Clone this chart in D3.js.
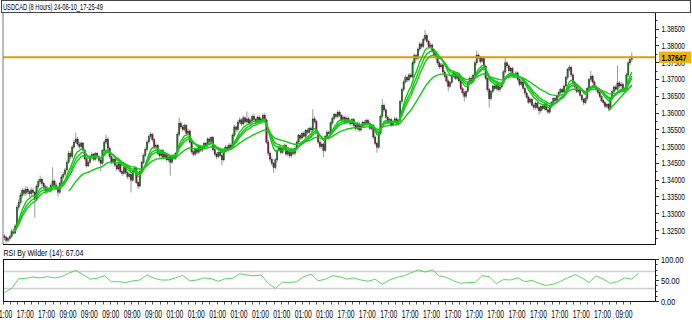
<!DOCTYPE html>
<html>
<head>
<meta charset="utf-8">
<script src="https://cdn.jsdelivr.net/npm/d3@7/dist/d3.min.js"></script>
<style>
body { margin: 0; background: #fff; }
svg { display: block; font-family: "Liberation Sans", Arial, sans-serif; }
</style>
</head>
<body>
<div id="chart"></div>
<script>
var titleText = "USDCAD (8 Hours) 24-06-10_17-25-49";
var rsiText = "RSI By Wilder (14): 67.04";
var lastPrice = 1.37647;

// 8h candles, oldest first
var open = [
1.3232,1.3228,1.3219,1.3224,1.3231,1.3246,1.3241,1.3262,1.3318,1.3331,
1.3352,1.3368,1.3359,1.3372,1.3364,1.3358,1.3369,1.3361,1.3342,1.3379,
1.3394,1.3401,1.3388,1.3379,1.3366,1.3374,1.3368,1.3382,1.3396,1.3384,
1.3377,1.3362,1.3389,1.3408,1.3416,1.3429,1.3452,1.3478,1.3469,1.3497,
1.3512,1.3521,1.3506,1.3498,1.3509,1.3488,1.3462,1.3441,1.3452,1.3468,
1.3474,1.3461,1.3478,1.3469,1.3457,1.3449,1.3486,1.3512,1.3521,1.3494,
1.3468,1.3452,1.3461,1.3443,1.3432,1.3447,1.3424,1.3418,1.3436,1.3421,
1.3409,1.3415,1.3398,1.3426,1.3434,1.3392,1.3381,1.3425,1.3451,1.3472,
1.3489,1.3512,1.3528,1.3534,1.3519,1.3496,1.3502,1.3478,1.3471,1.3486,
1.3466,1.3474,1.3459,1.3467,1.3452,1.3471,1.3463,1.3477,1.3535,1.3568,
1.3557,1.3549,1.3561,1.3538,1.3545,1.3512,1.3483,1.3476,1.3489,1.3481,
1.3497,1.3488,1.3494,1.3508,1.3502,1.3521,1.3514,1.3526,1.3489,1.3476,
1.3468,1.3481,1.3472,1.3459,1.3486,1.3497,1.3491,1.3503,1.3496,1.3532,
1.3557,1.3549,1.3571,1.3578,1.3566,1.3584,1.3572,1.3581,1.3569,1.3576,
1.3588,1.3579,1.3571,1.3586,1.3574,1.3581,1.3592,1.3578,1.3512,1.3479,
1.3461,1.3448,1.3436,1.3459,1.3488,1.3497,1.3481,1.3492,1.3502,1.3476,
1.3484,1.3471,1.3489,1.3478,1.3494,1.3512,1.3531,1.3524,1.3538,1.3529,
1.3546,1.3541,1.3552,1.3548,1.3581,1.3573,1.3541,1.3512,1.3498,1.3506,
1.3487,1.3528,1.3541,1.3537,1.3569,1.3582,1.3594,1.3588,1.3601,1.3592,
1.3578,1.3586,1.3571,1.3583,1.3574,1.3566,1.3579,1.3561,1.3552,1.3566,
1.3548,1.3559,1.3571,1.3563,1.3576,1.3568,1.3552,1.3561,1.3527,1.3508,
1.3496,1.3538,1.3589,1.3621,1.3608,1.3586,1.3571,1.3579,1.3563,1.3572,
1.3581,1.3568,1.3576,1.3632,1.3668,1.3691,1.3704,1.3697,1.3712,1.3706,
1.3748,1.3769,1.3761,1.3789,1.3804,1.3797,1.3818,1.3829,1.3812,1.3796,
1.3801,1.3784,1.3772,1.3763,1.3748,1.3736,1.3742,1.3721,1.3708,1.3694,
1.3678,1.3689,1.3708,1.3716,1.3702,1.3711,1.3694,1.3671,1.3659,1.3648,
1.3663,1.3689,1.3702,1.3694,1.3711,1.3748,1.3771,1.3764,1.3752,1.3761,
1.3738,1.3702,1.3668,1.3641,1.3662,1.3679,1.3671,1.3684,1.3668,1.3676,
1.3688,1.3721,1.3748,1.3739,1.3724,1.3731,1.3712,1.3706,1.3718,1.3698,
1.3684,1.3691,1.3672,1.3658,1.3646,1.3631,1.3639,1.3622,1.3615,1.3628,
1.3614,1.3605,1.3619,1.3611,1.3624,1.3608,1.3601,1.3617,1.3629,1.3641,
1.3636,1.3648,1.3659,1.3668,1.3661,1.3679,1.3704,1.3728,1.3734,1.3712,
1.3689,1.3676,1.3663,1.3668,1.3651,1.3638,1.3629,1.3642,1.3672,1.3698,
1.3708,1.3691,1.3677,1.3668,1.3659,1.3648,1.3636,1.3629,1.3618,1.3624,
1.3612,1.3641,1.3662,1.3676,1.3669,1.3688,1.3679,1.3684,1.3671,1.3668,
1.3712,1.3748,1.3758
];
var high = [
1.3238,1.3233,1.3229,1.3236,1.3253,1.3255,1.3268,1.3324,1.3342,1.3361,
1.3376,1.3374,1.3381,1.3379,1.3369,1.3377,1.3374,1.3366,1.3386,1.3402,
1.3412,1.3406,1.3393,1.3384,1.3381,1.3379,1.3389,1.3437,1.3401,1.3391,
1.3383,1.3394,1.3414,1.3423,1.3435,1.3458,1.3486,1.3484,1.3503,1.3519,
1.3540,1.3527,1.3513,1.3514,1.3512,1.3493,1.3467,1.3458,1.3474,1.3481,
1.3479,1.3483,1.3482,1.3473,1.3461,1.3491,1.3517,1.3534,1.3526,1.3499,
1.3473,1.3466,1.3467,1.3448,1.3453,1.3452,1.3429,1.3442,1.3441,1.3426,
1.3421,1.3419,1.3431,1.3441,1.3438,1.3397,1.3431,1.3456,1.3478,1.3496,
1.3518,1.3533,1.3542,1.3539,1.3524,1.3508,1.3506,1.3483,1.3492,1.3491,
1.3479,1.3478,1.3472,1.3471,1.3476,1.3476,1.3482,1.3541,1.3585,1.3574,
1.3563,1.3567,1.3566,1.3551,1.3549,1.3517,1.3488,1.3494,1.3493,1.3503,
1.3502,1.3499,1.3513,1.3512,1.3527,1.3526,1.3531,1.3529,1.3494,1.3481,
1.3487,1.3486,1.3477,1.3492,1.3503,1.3502,1.3509,1.3508,1.3538,1.3563,
1.3562,1.3577,1.3586,1.3583,1.3591,1.3589,1.3603,1.3587,1.3582,1.3594,
1.3596,1.3584,1.3591,1.3592,1.3586,1.3598,1.3597,1.3583,1.3518,1.3484,
1.3468,1.3453,1.3464,1.3493,1.3503,1.3502,1.3497,1.3508,1.3507,1.3489,
1.3489,1.3494,1.3494,1.3499,1.3517,1.3537,1.3536,1.3543,1.3544,1.3551,
1.3553,1.3557,1.3558,1.3610,1.3589,1.3578,1.3546,1.3518,1.3511,1.3511,
1.3533,1.3547,1.3546,1.3574,1.3588,1.3599,1.3598,1.3607,1.3606,1.3596,
1.3592,1.3591,1.3588,1.3588,1.3579,1.3584,1.3583,1.3567,1.3571,1.3571,
1.3564,1.3576,1.3577,1.3581,1.3581,1.3573,1.3566,1.3566,1.3532,1.3513,
1.3543,1.3594,1.3640,1.3627,1.3613,1.3591,1.3584,1.3584,1.3577,1.3587,
1.3586,1.3581,1.3638,1.3674,1.3698,1.3711,1.3709,1.3718,1.3717,1.3754,
1.3776,1.3774,1.3794,1.3811,1.3809,1.3824,1.3846,1.3834,1.3817,1.3807,
1.3806,1.3789,1.3778,1.3768,1.3753,1.3748,1.3747,1.3726,1.3713,1.3699,
1.3694,1.3713,1.3722,1.3721,1.3716,1.3716,1.3699,1.3676,1.3664,1.3668,
1.3694,1.3708,1.3707,1.3716,1.3754,1.3784,1.3776,1.3769,1.3766,1.3766,
1.3743,1.3707,1.3673,1.3667,1.3684,1.3684,1.3689,1.3689,1.3681,1.3693,
1.3726,1.3762,1.3753,1.3744,1.3736,1.3736,1.3717,1.3723,1.3722,1.3703,
1.3697,1.3696,1.3677,1.3663,1.3651,1.3644,1.3643,1.3627,1.3633,1.3632,
1.3619,1.3624,1.3623,1.3629,1.3628,1.3613,1.3622,1.3634,1.3646,1.3647,
1.3653,1.3664,1.3673,1.3674,1.3684,1.3709,1.3733,1.3742,1.3739,1.3717,
1.3694,1.3681,1.3673,1.3673,1.3656,1.3643,1.3647,1.3677,1.3703,1.3724,
1.3713,1.3696,1.3682,1.3673,1.3664,1.3653,1.3641,1.3634,1.3629,1.3629,
1.3646,1.3667,1.3681,1.3682,1.3740,1.3694,1.3691,1.3689,1.3676,1.3718,
1.3754,1.3769,1.3779
];
var low = [
1.3219,1.3211,1.3213,1.3218,1.3225,1.3236,1.3238,1.3257,1.3309,1.3326,
1.3346,1.3352,1.3351,1.3357,1.3349,1.3352,1.3355,1.3287,1.3336,1.3373,
1.3387,1.3381,1.3372,1.3358,1.3361,1.3363,1.3361,1.3377,1.3378,1.3369,
1.3350,1.3357,1.3384,1.3402,1.3411,1.3424,1.3447,1.3461,1.3463,1.3491,
1.3507,1.3501,1.3492,1.3493,1.3483,1.3457,1.3436,1.3437,1.3447,1.3463,
1.3455,1.3456,1.3463,1.3451,1.3425,1.3444,1.3481,1.3506,1.3489,1.3462,
1.3446,1.3447,1.3438,1.3426,1.3427,1.3419,1.3411,1.3413,1.3416,1.3402,
1.3403,1.3362,1.3393,1.3421,1.3387,1.3372,1.3376,1.3419,1.3446,1.3467,
1.3484,1.3507,1.3522,1.3513,1.3491,1.3489,1.3473,1.3465,1.3466,1.3461,
1.3461,1.3454,1.3453,1.3412,1.3447,1.3458,1.3458,1.3471,1.3529,1.3551,
1.3543,1.3544,1.3532,1.3533,1.3507,1.3476,1.3469,1.3471,1.3475,1.3476,
1.3483,1.3482,1.3489,1.3496,1.3497,1.3508,1.3509,1.3484,1.3471,1.3461,
1.3463,1.3467,1.3442,1.3454,1.3481,1.3486,1.3486,1.3491,1.3491,1.3527,
1.3541,1.3543,1.3565,1.3561,1.3561,1.3567,1.3567,1.3563,1.3563,1.3571,
1.3573,1.3566,1.3567,1.3569,1.3569,1.3576,1.3572,1.3506,1.3471,1.3453,
1.3442,1.3420,1.3431,1.3452,1.3483,1.3476,1.3477,1.3486,1.3471,1.3469,
1.3465,1.3466,1.3473,1.3472,1.3489,1.3507,1.3518,1.3519,1.3524,1.3524,
1.3535,1.3536,1.3542,1.3543,1.3567,1.3536,1.3506,1.3492,1.3493,1.3468,
1.3482,1.3523,1.3531,1.3531,1.3563,1.3577,1.3582,1.3583,1.3586,1.3572,
1.3573,1.3566,1.3566,1.3568,1.3561,1.3561,1.3556,1.3546,1.3547,1.3542,
1.3543,1.3553,1.3558,1.3558,1.3563,1.3547,1.3547,1.3521,1.3502,1.3480,
1.3491,1.3532,1.3583,1.3602,1.3581,1.3566,1.3566,1.3557,1.3558,1.3567,
1.3562,1.3563,1.3571,1.3626,1.3662,1.3686,1.3691,1.3692,1.3701,1.3701,
1.3742,1.3755,1.3756,1.3783,1.3791,1.3792,1.3812,1.3806,1.3791,1.3790,
1.3778,1.3767,1.3757,1.3742,1.3729,1.3731,1.3716,1.3702,1.3688,1.3663,
1.3672,1.3684,1.3703,1.3697,1.3697,1.3689,1.3666,1.3653,1.3633,1.3642,
1.3658,1.3683,1.3688,1.3689,1.3706,1.3742,1.3758,1.3746,1.3747,1.3732,
1.3696,1.3662,1.3615,1.3636,1.3657,1.3666,1.3666,1.3663,1.3662,1.3671,
1.3683,1.3716,1.3733,1.3719,1.3719,1.3707,1.3701,1.3701,1.3693,1.3678,
1.3678,1.3667,1.3652,1.3641,1.3626,1.3626,1.3617,1.3608,1.3609,1.3608,
1.3594,1.3599,1.3606,1.3606,1.3603,1.3596,1.3597,1.3612,1.3624,1.3631,
1.3631,1.3642,1.3654,1.3656,1.3656,1.3674,1.3698,1.3722,1.3706,1.3683,
1.3671,1.3658,1.3658,1.3646,1.3633,1.3622,1.3624,1.3637,1.3667,1.3692,
1.3686,1.3672,1.3662,1.3654,1.3643,1.3631,1.3623,1.3612,1.3613,1.3606,
1.3607,1.3636,1.3657,1.3664,1.3664,1.3673,1.3674,1.3666,1.3662,1.3663,
1.3706,1.3741,1.3751
];
var close = [
1.3228,1.3219,1.3224,1.3231,1.3246,1.3241,1.3262,1.3318,1.3331,1.3352,
1.3368,1.3359,1.3372,1.3364,1.3358,1.3369,1.3361,1.3342,1.3379,1.3394,
1.3401,1.3388,1.3379,1.3366,1.3374,1.3368,1.3382,1.3396,1.3384,1.3377,
1.3362,1.3389,1.3408,1.3416,1.3429,1.3452,1.3478,1.3469,1.3497,1.3512,
1.3521,1.3506,1.3498,1.3509,1.3488,1.3462,1.3441,1.3452,1.3468,1.3474,
1.3461,1.3478,1.3469,1.3457,1.3449,1.3486,1.3512,1.3521,1.3494,1.3468,
1.3452,1.3461,1.3443,1.3432,1.3447,1.3424,1.3418,1.3436,1.3421,1.3409,
1.3415,1.3398,1.3426,1.3434,1.3392,1.3381,1.3425,1.3451,1.3472,1.3489,
1.3512,1.3528,1.3534,1.3519,1.3496,1.3502,1.3478,1.3471,1.3486,1.3466,
1.3474,1.3459,1.3467,1.3452,1.3471,1.3463,1.3477,1.3535,1.3568,1.3557,
1.3549,1.3561,1.3538,1.3545,1.3512,1.3483,1.3476,1.3489,1.3481,1.3497,
1.3488,1.3494,1.3508,1.3502,1.3521,1.3514,1.3526,1.3489,1.3476,1.3468,
1.3481,1.3472,1.3459,1.3486,1.3497,1.3491,1.3503,1.3496,1.3532,1.3557,
1.3549,1.3571,1.3578,1.3566,1.3584,1.3572,1.3581,1.3569,1.3576,1.3588,
1.3579,1.3571,1.3586,1.3574,1.3581,1.3592,1.3578,1.3512,1.3479,1.3461,
1.3448,1.3436,1.3459,1.3488,1.3497,1.3481,1.3492,1.3502,1.3476,1.3484,
1.3471,1.3489,1.3478,1.3494,1.3512,1.3531,1.3524,1.3538,1.3529,1.3546,
1.3541,1.3552,1.3548,1.3581,1.3573,1.3541,1.3512,1.3498,1.3506,1.3487,
1.3528,1.3541,1.3537,1.3569,1.3582,1.3594,1.3588,1.3601,1.3592,1.3578,
1.3586,1.3571,1.3583,1.3574,1.3566,1.3579,1.3561,1.3552,1.3566,1.3548,
1.3559,1.3571,1.3563,1.3576,1.3568,1.3552,1.3561,1.3527,1.3508,1.3496,
1.3538,1.3589,1.3621,1.3608,1.3586,1.3571,1.3579,1.3563,1.3572,1.3581,
1.3568,1.3576,1.3632,1.3668,1.3691,1.3704,1.3697,1.3712,1.3706,1.3748,
1.3769,1.3761,1.3789,1.3804,1.3797,1.3818,1.3829,1.3812,1.3796,1.3801,
1.3784,1.3772,1.3763,1.3748,1.3736,1.3742,1.3721,1.3708,1.3694,1.3678,
1.3689,1.3708,1.3716,1.3702,1.3711,1.3694,1.3671,1.3659,1.3648,1.3663,
1.3689,1.3702,1.3694,1.3711,1.3748,1.3771,1.3764,1.3752,1.3761,1.3738,
1.3702,1.3668,1.3641,1.3662,1.3679,1.3671,1.3684,1.3668,1.3676,1.3688,
1.3721,1.3748,1.3739,1.3724,1.3731,1.3712,1.3706,1.3718,1.3698,1.3684,
1.3691,1.3672,1.3658,1.3646,1.3631,1.3639,1.3622,1.3615,1.3628,1.3614,
1.3605,1.3619,1.3611,1.3624,1.3608,1.3601,1.3617,1.3629,1.3641,1.3636,
1.3648,1.3659,1.3668,1.3661,1.3679,1.3704,1.3728,1.3734,1.3712,1.3689,
1.3676,1.3663,1.3668,1.3651,1.3638,1.3629,1.3642,1.3672,1.3698,1.3708,
1.3691,1.3677,1.3668,1.3659,1.3648,1.3636,1.3629,1.3618,1.3624,1.3612,
1.3641,1.3662,1.3676,1.3669,1.3688,1.3679,1.3684,1.3671,1.3668,1.3712,
1.3748,1.3758,1.37647
];

// RSI(14), one value every 4th candle
var rsiStep = 4;
var rsi = [
20,30,53,54,57,55,58,55,58,66,73,63,52,54,60,46,46,44,48,50,
62,54,50,50,55,61,48,50,55,53,47,53,54,65,62,60,62,42,30,45,
44,46,58,64,48,52,60,58,52,55,50,47,52,40,50,56,60,67,74,69,
74,60,56,48,42,44,44,60,58,41,51,50,55,46,49,42,37,40,47,55,
63,55,44,60,52,42,46,55,52,67
];

// short rising line at the right end: [candle index, price]
var trendStart = [339, 1.3606];
var trendEnd = [352, 1.3682];

var priceTicks = [1.385,1.38,1.375,1.37,1.365,1.36,1.355,1.35,1.345,1.34,1.335,1.33,1.325];
var rsiTicks = [100, 50, 0];
var rsiLevels = [70, 30];
var timeLabels = ["01:00","17:00","17:00","09:00","09:00","09:00","09:00","09:00",
  "01:00","01:00","01:00","01:00","01:00","01:00","01:00","01:00",
  "17:00","17:00","17:00","17:00","17:00","17:00","17:00","17:00","17:00",
  "17:00","17:00","17:00","17:00","09:00"];
var maPeriods = [8, 11, 14];
var slowPeriod = 34;

var W = 692, H = 336;
var left = 3, right = 655, mainTop = 13, mainBottom = 244;
var rsiTop = 259, rsiBottom = 301;
var N = close.length;

var svg = d3.select("#chart").append("svg")
  .attr("width", W).attr("height", H);

var x = d3.scaleLinear().domain([0, N - 1]).range([4.5, 631.8]);
var y = d3.scaleLinear().domain([1.325, 1.385]).range([230, 28.6]);
var yr = d3.scaleLinear().domain([0, 100]).range([rsiBottom, rsiTop]);

// the chart font is very narrow: draw at full height, squeeze to the measured width
function squeeze(t, x0, y0, width) {
  var w = t.node().getComputedTextLength();
  t.attr("transform", "translate(" + x0 + "," + y0 + ") scale(" + (width / w) + ",1)");
  return t;
}

svg.append("clipPath").attr("id", "mainClip").append("rect")
  .attr("x", left).attr("y", mainTop).attr("width", right - left).attr("height", mainBottom - mainTop);
svg.append("clipPath").attr("id", "rsiClip").append("rect")
  .attr("x", left).attr("y", rsiTop).attr("width", right - left).attr("height", rsiBottom - rsiTop);

// title strip
svg.append("rect").attr("x", 1.5).attr("y", 0.5).attr("width", 689).attr("height", 12)
  .attr("fill", "#fff").attr("stroke", "#444");
squeeze(svg.append("text").attr("font-size", 9.5).text(titleText), 3, 10, 100);

var plot = svg.append("g").attr("clip-path", "url(#mainClip)");

// candles
var idx = d3.range(N);
plot.selectAll("line.wick").data(idx).enter().append("line")
  .attr("class", "wick")
  .attr("x1", function(i) { return x(i); })
  .attr("x2", function(i) { return x(i); })
  .attr("y1", function(i) { return y(high[i]); })
  .attr("y2", function(i) { return y(low[i]); })
  .attr("stroke", "#9a9a9a").attr("stroke-width", 1);

plot.selectAll("rect.body").data(idx).enter().append("rect")
  .attr("class", "body")
  .attr("x", function(i) { return x(i) - 0.7; })
  .attr("width", 1.4)
  .attr("y", function(i) { return y(Math.max(open[i], close[i])); })
  .attr("height", function(i) { return Math.max(0.8, Math.abs(y(open[i]) - y(close[i]))); })
  .attr("fill", function(i) { return close[i] >= open[i] ? "#1e7a1e" : "#8a1449"; })
  .attr("stroke", "#222").attr("stroke-width", 0.35);

// last price line
plot.append("line")
  .attr("x1", left).attr("x2", right)
  .attr("y1", y(lastPrice)).attr("y2", y(lastPrice))
  .attr("stroke", "#d99e14").attr("stroke-width", 2);

// moving averages of the closes
function ema(period, start) {
  var k = 2 / (period + 1), prev = close[start], out = [];
  for (var i = start; i < N; i++) {
    prev = (i === start) ? close[i] : close[i] * k + prev * (1 - k);
    out.push([i, prev]);
  }
  return out;
}
var maLine = d3.line().x(function(d) { return x(d[0]); }).y(function(d) { return y(d[1]); });
maPeriods.forEach(function(p) {
  plot.append("path").datum(ema(p, 4)).attr("d", maLine)
    .attr("fill", "none").attr("stroke", "#14c814").attr("stroke-width", 1.4);
});
plot.append("path").datum(ema(slowPeriod, 0).filter(function(d) { return d[0] >= 36; }))
  .attr("d", maLine).attr("fill", "none").attr("stroke", "#14c814").attr("stroke-width", 1.4);
plot.append("path").datum([trendStart, trendEnd])
  .attr("d", maLine).attr("fill", "none").attr("stroke", "#14c814").attr("stroke-width", 1.4);

// main frame
svg.append("line").attr("x1", left).attr("x2", left).attr("y1", mainTop).attr("y2", mainBottom)
  .attr("stroke", "#777");
svg.append("line").attr("x1", left).attr("x2", right).attr("y1", mainBottom + 0.5).attr("y2", mainBottom + 0.5)
  .attr("stroke", "#111");
svg.append("line").attr("x1", right + 0.5).attr("x2", right + 0.5).attr("y1", mainTop).attr("y2", mainBottom + 1)
  .attr("stroke", "#111");

// price axis
var pAxis = svg.append("g");
pAxis.selectAll("line.minor").data(d3.range(1.3225, 1.3895, 0.0025)).enter().append("line")
  .attr("x1", right + 0.5).attr("x2", right + 2.5)
  .attr("y1", function(d) { return Math.round(y(d)) + 0.5; })
  .attr("y2", function(d) { return Math.round(y(d)) + 0.5; })
  .attr("stroke", "#333");
pAxis.selectAll("line.major").data(priceTicks).enter().append("line")
  .attr("x1", right + 0.5).attr("x2", right + 4)
  .attr("y1", function(d) { return Math.round(y(d)) + 0.5; })
  .attr("y2", function(d) { return Math.round(y(d)) + 0.5; })
  .attr("stroke", "#333");
pAxis.selectAll("text").data(priceTicks).enter().append("text")
  .attr("font-size", 9.5)
  .text(function(d) { return d3.format(".5f")(d); })
  .each(function(d) { squeeze(d3.select(this), 661.5, y(d) + 3.5, 23.5); });

// current price tag
svg.append("rect").attr("x", 659).attr("y", y(lastPrice) - 5.7).attr("width", 32).attr("height", 11.5)
  .attr("fill", "#f2b20a");
squeeze(svg.append("text").attr("font-size", 9.5).attr("font-weight", "bold")
  .text(d3.format(".5f")(lastPrice)), 661.5, y(lastPrice) + 3.6, 25);

// RSI panel
squeeze(svg.append("text").attr("font-size", 9.5).text(rsiText), 3.5, 255.5, 80);
svg.selectAll("line.level").data(rsiLevels).enter().append("line")
  .attr("x1", left).attr("x2", right)
  .attr("y1", function(d) { return yr(d); }).attr("y2", function(d) { return yr(d); })
  .attr("stroke", "#cfcfcf").attr("stroke-width", 1.5);
svg.append("g").attr("clip-path", "url(#rsiClip)").append("path")
  .datum(rsi)
  .attr("d", d3.line().x(function(d, k) { return x(k * rsiStep); }).y(function(d) { return yr(d); }))
  .attr("fill", "none").attr("stroke", "#5fd35f").attr("stroke-width", 1);
svg.append("rect").attr("x", left + 0.5).attr("y", rsiTop + 0.5)
  .attr("width", right - left).attr("height", rsiBottom - rsiTop)
  .attr("fill", "none").attr("stroke", "#111");

var rAxis = svg.append("g");
rAxis.selectAll("line.minor").data(d3.range(0, 101, 12.5)).enter().append("line")
  .attr("x1", right + 0.5).attr("x2", right + 2.5)
  .attr("y1", function(d) { return Math.round(yr(d)) + 0.5; })
  .attr("y2", function(d) { return Math.round(yr(d)) + 0.5; })
  .attr("stroke", "#333");
rAxis.selectAll("line.major").data(rsiTicks).enter().append("line")
  .attr("x1", right + 0.5).attr("x2", right + 4)
  .attr("y1", function(d) { return Math.round(yr(d)) + 0.5; })
  .attr("y2", function(d) { return Math.round(yr(d)) + 0.5; })
  .attr("stroke", "#333");
rAxis.selectAll("text").data(rsiTicks).enter().append("text")
  .attr("font-size", 9.5)
  .text(function(d) { return d3.format(".2f")(d); })
  .each(function(d) {
    squeeze(d3.select(this), 661, yr(d) + 3.5, d === 100 ? 22.5 : (d === 50 ? 18.7 : 14.3));
  });

// time axis under the RSI panel: a label every 12 candles, ticks every 4
var tAxis = svg.append("g");
tAxis.selectAll("line").data(d3.range(-1, N + 2, 4)).enter().append("line")
  .attr("x1", function(i) { return Math.round(x(i)) + 0.5; })
  .attr("x2", function(i) { return Math.round(x(i)) + 0.5; })
  .attr("y1", rsiBottom + 1).attr("y2", rsiBottom + 3.5)
  .attr("stroke", "#555");
tAxis.selectAll("text").data(timeLabels).enter().append("text")
  .attr("font-size", 10)
  .text(function(d) { return d; })
  .each(function(d, j) { squeeze(d3.select(this), x(j * 12 - 1) + 1.1 - 8.5, 317.5, 17); });
</script>
</body>
</html>
